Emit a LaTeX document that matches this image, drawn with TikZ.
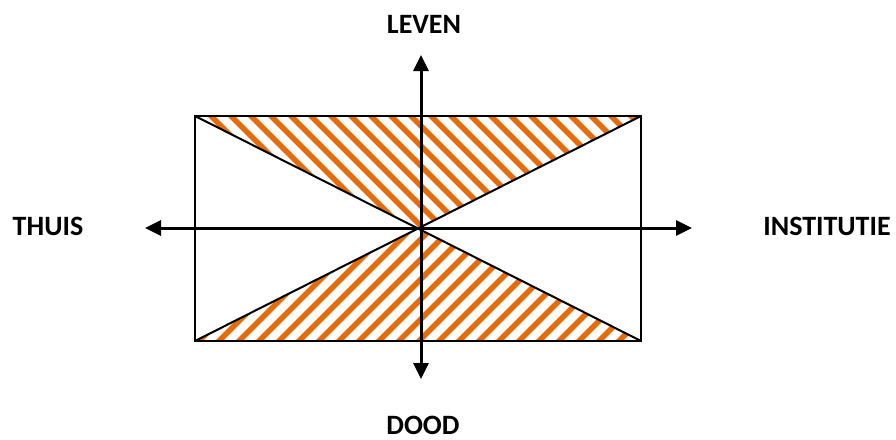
\documentclass[tikz,border=0pt]{standalone}
\usepackage{fontspec}
\setmainfont{Carlito}
\usetikzlibrary{arrows.meta}
\definecolor{hatch}{RGB}{228,108,10}
\tikzset{
  lbl/.style={font=\bfseries\fontsize{28}{32}\selectfont, inner sep=0pt},
  axis/.style={line width=3pt, {Triangle[length=16pt,width=15pt]}-{Triangle[length=16pt,width=15pt]}},
  frame/.style={draw=black, line width=2pt},
  stripe/.style={draw=hatch, line width=5.5pt}
}
\begin{document}
\begin{tikzpicture}[x=1pt,y=-1pt]
\useasboundingbox (0,0) rectangle (896,439);
\coordinate (nw) at (195,116);
\coordinate (ne) at (641,116);
\coordinate (sw) at (195,341);
\coordinate (se) at (641,341);
\coordinate (ctr) at (418,228.5);
% hatching
\begin{scope}
\clip (nw) -- (ne) -- (ctr) -- cycle;
\foreach \c in {-165,-145,...,560} \draw[stripe] (\c+100,100) -- (\c+360,360);
\end{scope}
\begin{scope}
\clip (sw) -- (se) -- (ctr) -- cycle;
\foreach \c in {-100,-80,...,1000} \draw[stripe] (\c-100,100) -- (\c-360,360);
\end{scope}
\draw[frame] (nw) rectangle (se);
\draw[frame] (nw) -- (se);
\draw[frame] (sw) -- (ne);
% axes
\coordinate (top) at (421,55);
\coordinate (bot) at (421,379);
\coordinate (lft) at (145,228);
\coordinate (rgt) at (692,228);
\draw[axis] (bot) -- (top);
\draw[axis] (lft) -- (rgt);
% labels
\node[lbl] (leven) at (424,24) {LEVEN};
\node[lbl] (dood) at (423,425) {DOOD};
\node[lbl] (thuis) at (48,226) {THUIS};
\node[lbl] (inst) at (827,226) {INSTITUTIE};
\end{tikzpicture}
\end{document}
